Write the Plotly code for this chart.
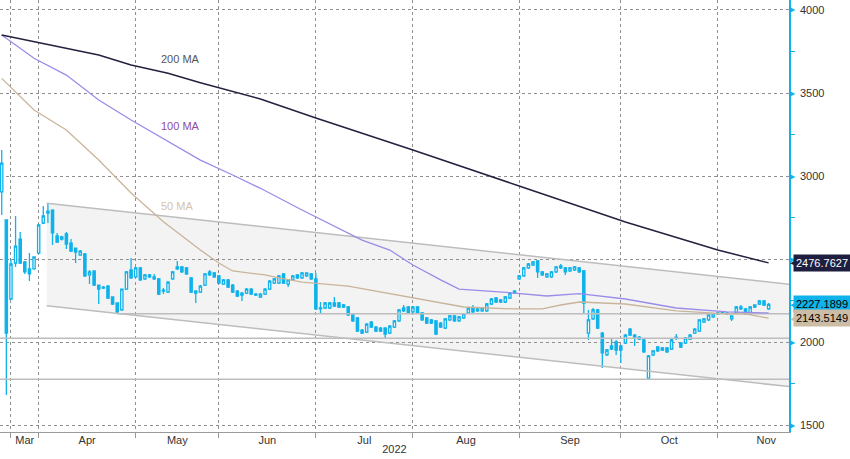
import numpy as np
import pandas as pd
import plotly.graph_objects as go

# ---------------- data ----------------
# trading calendar (MOEX, 2022): weekdays minus holidays and the Feb 28 - Mar 23 closure
holidays = ["2022-02-23", "2022-05-02", "2022-05-03", "2022-05-09", "2022-05-10",
            "2022-06-13", "2022-11-04"]
closure_start, closure_end = "2022-02-28", "2022-03-23"
cal = pd.bdate_range("2022-02-22", "2022-11-30")
cal = cal[~cal.isin(pd.to_datetime(holidays))]
cal = cal[(cal < closure_start) | (cal > closure_end)]

opens = [2904, 2735, 2259, 2476, 2620, 2482, 2440, 2440, 2536, 2717,
         2777, 2795, 2639, 2620, 2651, 2596, 2566, 2524, 2530, 2404,
         2428, 2343, 2325, 2337, 2271, 2235, 2193, 2319, 2434, 2392,
         2446, 2380, 2404, 2392, 2380, 2307, 2301, 2380, 2440, 2452,
         2446, 2386, 2307, 2301, 2343, 2422, 2416, 2398, 2349, 2374,
         2343, 2307, 2295, 2295, 2319, 2283, 2271, 2289, 2319, 2355,
         2355, 2410, 2349, 2374, 2404, 2386, 2398, 2410, 2380, 2205,
         2205, 2205, 2235, 2235, 2223, 2211, 2163, 2145, 2072, 2060,
         2120, 2090, 2084, 2084, 2054, 2090, 2127, 2205, 2211, 2181,
         2211, 2175, 2145, 2133, 2127, 2114, 2084, 2133, 2157, 2127,
         2145, 2175, 2205, 2199, 2187, 2187, 2229, 2265, 2253, 2241,
         2265, 2295, 2380, 2398, 2446, 2464, 2488, 2422, 2392, 2392,
         2422, 2458, 2446, 2428, 2434, 2446, 2428, 2054, 2139, 2193,
         2054, 1922, 1976, 2000, 1976, 1994, 2078, 2042, 2030, 2012,
         1783, 1922, 1970, 1964, 1964, 1958, 2030, 1994, 1994, 2018,
         2054, 2066, 2120, 2133, 2151, 2169, 2181, 2175, 2139, 2175,
         2199, 2199, 2169, 2211, 2229, 2247, 2199]
highs = [3157, 2740, 2500, 2759, 2663, 2488, 2536, 2515, 2712, 2819,
         2837, 2800, 2657, 2640, 2663, 2620, 2570, 2554, 2536, 2434,
         2432, 2346, 2337, 2343, 2275, 2240, 2322, 2428, 2506, 2452,
         2452, 2410, 2410, 2410, 2386, 2325, 2367, 2428, 2488, 2458,
         2452, 2392, 2313, 2343, 2416, 2434, 2422, 2404, 2380, 2380,
         2349, 2313, 2301, 2325, 2325, 2295, 2295, 2325, 2374, 2386,
         2404, 2416, 2380, 2404, 2410, 2422, 2420, 2416, 2416, 2241,
         2241, 2241, 2271, 2241, 2229, 2217, 2169, 2151, 2078, 2114,
         2126, 2096, 2090, 2090, 2102, 2133, 2199, 2223, 2217, 2217,
         2217, 2181, 2151, 2139, 2133, 2120, 2145, 2163, 2163, 2157,
         2175, 2211, 2223, 2205, 2211, 2235, 2265, 2271, 2259, 2277,
         2301, 2313, 2404, 2452, 2476, 2488, 2494, 2428, 2416, 2428,
         2458, 2470, 2452, 2452, 2458, 2452, 2434, 2193, 2205, 2199,
         2060, 1958, 2018, 2012, 1982, 2048, 2084, 2048, 2036, 2018,
         1922, 1952, 1976, 1970, 1970, 2018, 2048, 2000, 2030, 2048,
         2084, 2139, 2145, 2169, 2175, 2181, 2187, 2181, 2160, 2217,
         2223, 2205, 2217, 2226, 2253, 2253, 2235]
lows = [2765, 1681, 2253, 2452, 2470, 2410, 2367, 2436, 2530, 2711,
        2717, 2584, 2596, 2612, 2560, 2542, 2476, 2520, 2392, 2349,
        2337, 2229, 2319, 2259, 2223, 2175, 2187, 2313, 2380, 2386,
        2367, 2374, 2386, 2374, 2283, 2289, 2295, 2374, 2434, 2416,
        2404, 2295, 2235, 2295, 2337, 2398, 2386, 2349, 2343, 2325,
        2295, 2271, 2247, 2289, 2283, 2277, 2265, 2283, 2313, 2349,
        2349, 2349, 2331, 2368, 2380, 2380, 2392, 2374, 2193, 2169,
        2199, 2199, 2211, 2205, 2205, 2157, 2120, 2060, 2048, 2054,
        2084, 2060, 2060, 2024, 2048, 2084, 2120, 2181, 2169, 2175,
        2169, 2127, 2108, 2108, 2042, 2084, 2078, 2127, 2120, 2120,
        2139, 2169, 2175, 2181, 2181, 2181, 2223, 2235, 2235, 2235,
        2259, 2289, 2374, 2392, 2440, 2458, 2386, 2398, 2386, 2386,
        2416, 2440, 2404, 2422, 2428, 2416, 2175, 2012, 2133, 2078,
        1843, 1916, 1952, 1922, 1873, 1988, 2036, 1976, 2012, 1934,
        1777, 1916, 1940, 1946, 1934, 1952, 2012, 1964, 1988, 2012,
        2048, 2060, 2114, 2127, 2145, 2163, 2169, 2163, 2127, 2169,
        2193, 2163, 2163, 2205, 2223, 2217, 2193]
closes = [3078, 2054, 2470, 2578, 2476, 2422, 2410, 2512, 2705, 2759,
          2789, 2657, 2602, 2633, 2590, 2548, 2542, 2548, 2398, 2422,
          2343, 2319, 2331, 2265, 2229, 2181, 2319, 2422, 2386, 2446,
          2374, 2404, 2392, 2380, 2289, 2313, 2361, 2422, 2452, 2422,
          2410, 2301, 2295, 2337, 2410, 2404, 2392, 2355, 2374, 2331,
          2301, 2277, 2283, 2319, 2289, 2289, 2289, 2319, 2367, 2380,
          2398, 2355, 2374, 2398, 2386, 2416, 2416, 2380, 2199, 2199,
          2235, 2235, 2217, 2211, 2211, 2163, 2127, 2066, 2054, 2108,
          2090, 2066, 2066, 2048, 2096, 2127, 2193, 2187, 2175, 2211,
          2175, 2133, 2114, 2114, 2048, 2090, 2139, 2157, 2127, 2151,
          2169, 2205, 2181, 2187, 2205, 2229, 2259, 2241, 2241, 2271,
          2295, 2307, 2398, 2446, 2470, 2482, 2422, 2404, 2410, 2422,
          2452, 2446, 2422, 2446, 2452, 2422, 2235, 2133, 2193, 2084,
          1934, 1952, 1958, 1952, 1952, 2042, 2042, 2030, 2018, 1940,
          1916, 1946, 1946, 1952, 1940, 2012, 2024, 1970, 2024, 2042,
          2078, 2133, 2139, 2163, 2169, 2175, 2175, 2169, 2157, 2211,
          2211, 2169, 2211, 2223, 2247, 2223, 2227.1899]

# moving averages, read at selected trading-day positions
ma200_pos = [0, 7, 14, 21, 28, 36, 43, 50, 56, 68, 89, 112, 135, 155, 166]
ma200_val = [3849, 3809, 3773, 3729, 3669, 3619, 3562, 3508, 3464, 3349, 3157,
             2940, 2723, 2554, 2476.7627]
ma100_pos = [0, 7, 14, 21, 28, 36, 43, 50, 56, 65, 78, 84, 89, 95, 99, 111, 118,
             125, 135, 146, 157, 166]
ma100_val = [3849, 3709, 3608, 3458, 3337, 3207, 3096, 3006, 2926, 2795, 2614,
             2554, 2464, 2374, 2319, 2295, 2277, 2292, 2259, 2205, 2181, 2175]
ma50_pos = [0, 7, 14, 21, 28, 35, 43, 47, 50, 57, 60, 65, 75, 89, 100, 111, 117,
            121, 125, 135, 146, 157, 161, 166]
ma50_val = [3588, 3398, 3277, 3096, 2898, 2725, 2554, 2476, 2428, 2404, 2386,
            2361, 2337, 2265, 2211, 2199, 2199, 2223, 2241, 2229, 2187, 2169,
            2169, 2143.5149]

# trend channel (start / end position and values) and horizontal levels
chan_pos = [9.75, 170.6]
chan_top = [2836, 2348]
chan_bot = [2219, 1731]
level_start = [25, -1, -1]
level_val = [2170, 2022, 1775]

last_labels = ["2476.7627", "2227.1899", "2143.5149"]
last_values = [2476.7627, 2227.1899, 2143.5149]

y_ticks = [1500, 2000, 2500, 3000, 3500, 4000]
y_minor = [1750, 2250, 2750, 3250, 3750]
month_names = ["Mar", "Apr", "May", "Jun", "Jul", "Aug", "Sep", "Oct", "Nov"]

# ---------------- derived ----------------
N = len(closes)
assert len(opens) == len(highs) == len(lows) == N
dates = cal[:N]
x = np.arange(N)
# month boundaries: last trading day of the previous month
mon = cal.to_period("M")
last_of_month = [i for i in range(len(cal) - 1) if mon[i] != mon[i + 1]] + [len(cal) - 1]
bounds = last_of_month[:-1]           # Feb .. Oct month ends
ends = last_of_month                  # Feb .. Nov month ends
mids = [(ends[k] + ends[k + 1]) / 2 for k in range(len(ends) - 1)]

CYAN = "#0fb2ea"
GRID = "#8f8f8f"
xr = [-0.37, 170.41]
yr = [1457.9, 4060.2]

fig = go.Figure()

# horizontal levels
for s, v in zip(level_start, level_val):
    fig.add_trace(go.Scatter(x=[s, 172], y=[v, v], mode="lines",
                             line=dict(color="#bdbdbd", width=1.5), hoverinfo="skip"))
# channel lines
for ys in (chan_top, chan_bot):
    fig.add_trace(go.Scatter(x=chan_pos, y=ys, mode="lines",
                             line=dict(color="#bdbdbd", width=1.5), hoverinfo="skip"))

# moving averages
fig.add_trace(go.Scatter(x=ma50_pos, y=ma50_val, mode="lines",
                         line=dict(color="#c9b49a", width=1.3), name="50 MA"))
fig.add_trace(go.Scatter(x=ma100_pos, y=ma100_val, mode="lines",
                         line=dict(color="#9a8ce8", width=1.3), name="100 MA"))
fig.add_trace(go.Scatter(x=ma200_pos, y=ma200_val, mode="lines",
                         line=dict(color="#22223f", width=1.5), name="200 MA"))

fig.add_trace(go.Candlestick(
    x=x, open=opens, high=highs, low=lows, close=closes,
    text=[d.strftime("%Y-%m-%d") for d in dates], hoverinfo="text+y",
    increasing=dict(line=dict(color=CYAN, width=1.3), fillcolor="white"),
    decreasing=dict(line=dict(color=CYAN, width=1.3), fillcolor=CYAN),
    whiskerwidth=0, name="Price"))

# dummy trace for the month-label axis
fig.add_trace(go.Scatter(x=[mids[0]], y=[yr[0]], xaxis="x2", mode="markers",
                         marker=dict(opacity=0), hoverinfo="skip"))

shapes = [dict(type="path", layer="below", xref="x", yref="y",
               path=f"M {chan_pos[0]},{chan_top[0]} L {chan_pos[1]},{chan_top[1]} "
                    f"L {chan_pos[1]},{chan_bot[1]} L {chan_pos[0]},{chan_bot[0]} Z",
               fillcolor="#f3f3f3", line=dict(width=0))]

annotations = []
# MA labels
annotations += [
    dict(x=38.6, y=3705, text="200 MA", showarrow=False, font=dict(color="#555555", size=11)),
    dict(x=38.6, y=3301, text="100 MA", showarrow=False, font=dict(color="#8e4a9e", size=11)),
    dict(x=38.0, y=2819, text="50 MA", showarrow=False, font=dict(color="#d4c3ab", size=11)),
]
# axis triangles
for v in y_ticks:
    annotations.append(dict(xref="paper", yref="y", x=1, y=v, text="▶", showarrow=False,
                            xanchor="left", xshift=-2, font=dict(color=CYAN, size=8)))
# last value labels (pointer + box)
lab_style = [("#1e1e40", "white"), (CYAN, "black"), ("#cdbca5", "black")]
for t, v, (bg, fc) in zip(last_labels, last_values, lab_style):
    annotations.append(dict(xref="paper", yref="y", x=1, y=v, text="◀", showarrow=False,
                            xanchor="left", xshift=-1, font=dict(color=bg, size=11,
                                                                 family="DejaVu Sans")))
    annotations.append(dict(xref="paper", yref="y", x=1, y=v, text=t, showarrow=False,
                            xanchor="left", xshift=4, bgcolor=bg, borderpad=2,
                            font=dict(color=fc, size=11)))

fig.update_layout(
    width=850, height=459, margin=dict(l=0, r=61, t=0, b=27),
    plot_bgcolor="white", paper_bgcolor="white", showlegend=False,
    font=dict(family="Liberation Sans", size=11, color="#333333"),
    shapes=shapes, annotations=annotations,
    xaxis=dict(range=xr, tickmode="array", tickvals=bounds, ticktext=[""] * len(bounds),
               ticks="outside", ticklen=5, tickcolor="#999999", showgrid=True,
               gridcolor=GRID, griddash="dot", gridwidth=1, showline=True,
               linecolor="#9a9a9a", linewidth=1, zeroline=False,
               rangeslider=dict(visible=False), fixedrange=True),
    xaxis2=dict(range=xr, overlaying="x", anchor="y", side="bottom", tickmode="array",
                tickvals=mids, ticktext=month_names, ticks="", showgrid=False,
                showline=False, zeroline=False, tickfont=dict(size=11, color="#333"),
                title=dict(text="2022", standoff=0, font=dict(size=11, color="#333")),
                fixedrange=True),
    yaxis=dict(side="right", range=yr, tickmode="array", tickvals=y_ticks,
               ticktext=[str(v) for v in y_ticks], ticks="outside", ticklen=7,
               tickcolor="rgba(0,0,0,0)", showgrid=True, gridcolor=GRID, griddash="dot",
               gridwidth=1, showline=True, linecolor=CYAN, linewidth=1.5, zeroline=False,
               tickfont=dict(size=11, color="#333"),
               minor=dict(tickvals=y_minor, ticks="outside", ticklen=4, tickcolor=CYAN,
                          showgrid=False),
               fixedrange=True),
)

fig.write_html("out.html", config={"displayModeBar": False},
               post_script="document.body.style.margin='0px';")
